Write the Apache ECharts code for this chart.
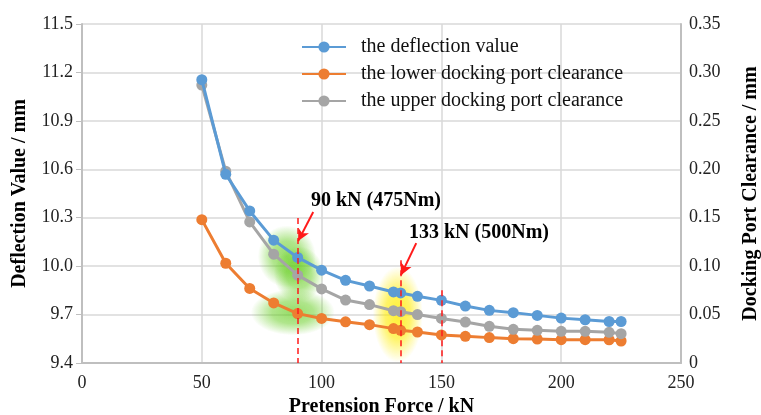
<!DOCTYPE html>
<html><head><meta charset="utf-8">
<script src="https://cdn.jsdelivr.net/npm/echarts@6/dist/echarts.min.js"></script>
<style>html,body{margin:0;padding:0;background:#fff}#c{width:761px;height:415px}</style>
</head><body><div id="c"></div>
<script>
const xs = [50,60,70,80,90,100,110,120,130,133,140,150,160,170,180,190,200,210,220,225];
const deflection = [11.155,10.569,10.342,10.161,10.054,9.975,9.912,9.877,9.840,9.834,9.813,9.788,9.753,9.726,9.712,9.695,9.678,9.668,9.657,9.657];
const lower = [0.148,0.103,0.077,0.062,0.051,0.046,0.0425,0.0396,0.0355,0.0337,0.032,0.029,0.0275,0.0262,0.0251,0.0247,0.0241,0.0241,0.024,0.0227];
const upper = [0.287,0.198,0.1456,0.1124,0.0907,0.0765,0.065,0.0603,0.054,0.053,0.050,0.046,0.0423,0.0379,0.0348,0.0337,0.0327,0.0327,0.0317,0.0303];
const seriesNames = ['the deflection value','the lower docking port clearance','the upper docking port clearance'];
const markForces = [90,133,150];
const markTops = [10.298,10.037,9.85];
const annoTexts = ['90 kN (475Nm)','133 kN (500Nm)'];
const arrows = [[[96.5,10.335],[90.2,10.155]],[[139.5,10.143],[133.1,9.944]]];
const glows = [
  {pt:[85.5,10.06], size:[58,62], rgb:'100,205,30', a:0.85},
  {pt:[90.5,9.95], size:[50,56], rgb:'100,205,30', a:0.85},
  {pt:[88,9.714], size:[84,46], rgb:'100,205,30', a:0.85},
  {pt:[131.8,9.70], size:[50,96], rgb:'255,236,0', a:1}
];

const serif = '"Liberation Serif","Times New Roman",serif';
const pair = arr => xs.map((x,i)=>[x,arr[i]]);
const glowColor = (rgb,a) => ({type:'radial',x:0.5,y:0.5,r:0.5,colorStops:[
  {offset:0,color:'rgba('+rgb+','+a+')'},{offset:0.5,color:'rgba('+rgb+','+(a*0.75)+')'},{offset:1,color:'rgba('+rgb+',0)'}]});
const chart = echarts.init(document.getElementById('c'));
chart.setOption({
  animation:false,
  textStyle:{fontFamily:serif},
  grid:{left:82,right:80,top:24,bottom:52,containLabel:false,outerBoundsMode:'none'},
  legend:{
    data:seriesNames, orient:'vertical', left:296, top:32, itemGap:7,
    itemWidth:44, itemHeight:14,
    textStyle:{fontFamily:serif,fontSize:20,color:'#111',padding:[0,0,0,10]}
  },
  xAxis:{
    type:'value', min:0, max:250, interval:50,
    name:'Pretension Force / kN', nameLocation:'middle', nameGap:32,
    nameTextStyle:{fontFamily:serif,fontSize:20,fontWeight:'bold',color:'#000'},
    axisLine:{show:true,lineStyle:{color:'#bfbfbf',width:2}},
    axisTick:{show:false},
    axisLabel:{fontFamily:serif,fontSize:18,color:'#222',margin:11},
    splitLine:{show:true,lineStyle:{color:'#d9d9d9',width:1.5}}
  },
  yAxis:[{
    type:'value', min:9.4, max:11.5, interval:0.3, position:'left',
    name:'Deflection Value / mm', nameLocation:'middle', nameGap:52,
    nameTextStyle:{fontFamily:serif,fontSize:20,fontWeight:'bold',color:'#000'},
    axisLine:{show:true,lineStyle:{color:'#bfbfbf',width:2}},
    axisTick:{show:true,length:6,lineStyle:{color:'#bfbfbf'}},
    axisLabel:{fontFamily:serif,fontSize:18,color:'#222',margin:9,formatter:v=>v.toFixed(1)},
    splitLine:{show:true,lineStyle:{color:'#d9d9d9',width:1.5}}
  },{
    type:'value', min:0, max:0.35, interval:0.05, position:'right',
    name:'Docking Port Clearance / mm', nameLocation:'middle', nameGap:60,
    nameRotate:90,
    nameTextStyle:{fontFamily:serif,fontSize:20,fontWeight:'bold',color:'#000'},
    axisLine:{show:true,lineStyle:{color:'#bfbfbf',width:2}},
    axisTick:{show:false},
    axisLabel:{fontFamily:serif,fontSize:18,color:'#222',margin:8,formatter:v=>v===0?'0':v.toFixed(2)},
    splitLine:{show:false}
  }],
  series:[
    {
      name:'glow', type:'scatter', yAxisIndex:0, z:1, silent:true,
      data:glows.map(g=>({value:g.pt,symbolSize:g.size,itemStyle:{color:glowColor(g.rgb,g.a)}})),
      symbol:'circle'
    },
    {
      name:seriesNames[0], type:'line', yAxisIndex:0, z:4,
      data:pair(deflection), symbol:'circle', symbolSize:11, showSymbol:true,
      lineStyle:{color:'#5B9BD5',width:3}, itemStyle:{color:'#5B9BD5'},
      markLine:{
        silent:true, symbol:['none','none'], animation:false,
        label:{show:false},
        lineStyle:{color:'#ff1a1a',type:[6,4],width:1.5},
        data: markForces.map((f,i)=>[{coord:[f,markTops[i]]},{coord:[f,9.4]}])
          .concat(arrows.map(a=>[
            {coord:a[0],symbol:'none',lineStyle:{type:'solid',width:2,color:'#ff1a1a'}},
            {coord:a[1],symbol:'arrow',symbolSize:[9,12]}
          ]))
      }
    },
    {
      name:seriesNames[1], type:'line', yAxisIndex:1, z:3,
      data:pair(lower), symbol:'circle', symbolSize:11,
      lineStyle:{color:'#ED7D31',width:3}, itemStyle:{color:'#ED7D31'}
    },
    {
      name:seriesNames[2], type:'line', yAxisIndex:1, z:3,
      data:pair(upper), symbol:'circle', symbolSize:11,
      lineStyle:{color:'#A5A5A5',width:3}, itemStyle:{color:'#A5A5A5'}
    }
  ],
  graphic:[
    {type:'text', left:311, top:191, z:100, style:{text:annoTexts[0],font:'bold 20px '+serif,fill:'#000'}},
    {type:'text', left:409, top:223, z:100, style:{text:annoTexts[1],font:'bold 20px '+serif,fill:'#000'}}
  ]
});
</script></body></html>
